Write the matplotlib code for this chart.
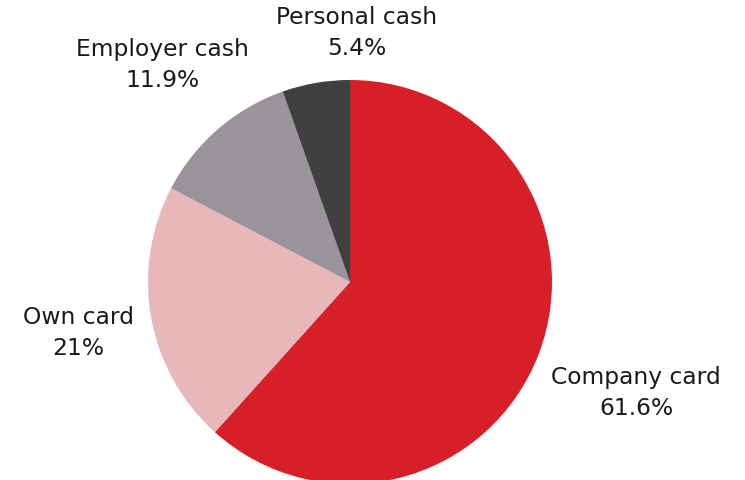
import matplotlib.pyplot as plt

categories = ["Company card", "Own card", "Employer cash", "Personal cash"]
values = [61.6, 21, 11.9, 5.4]
colors = ["#D71F27", "#E8B7B9", "#9A939B", "#404040"]
label_xy = [(636, 88), (78, 148), (162, 416), (357, 448)]

W, H = 745, 481
fig = plt.figure(figsize=(W / 100, H / 100), dpi=100)
ax = fig.add_axes([0, 0, 1, 1])

ax.pie(values, colors=colors, startangle=90, counterclock=False,
       center=(350, 198), radius=202, frame=True,
       wedgeprops=dict(linewidth=0))
ax.set_xlim(0, W)
ax.set_ylim(0, H)
ax.set_aspect("equal")
ax.axis("off")

for name, v, (x, y) in zip(categories, values, label_xy):
    ax.text(x, y, f"{name}\n{v:g}%", ha="center", va="center",
            fontsize=16.8, family="DejaVu Sans", color="#1a1a1a",
            linespacing=1.4)

fig.savefig("out.png", dpi=100)
